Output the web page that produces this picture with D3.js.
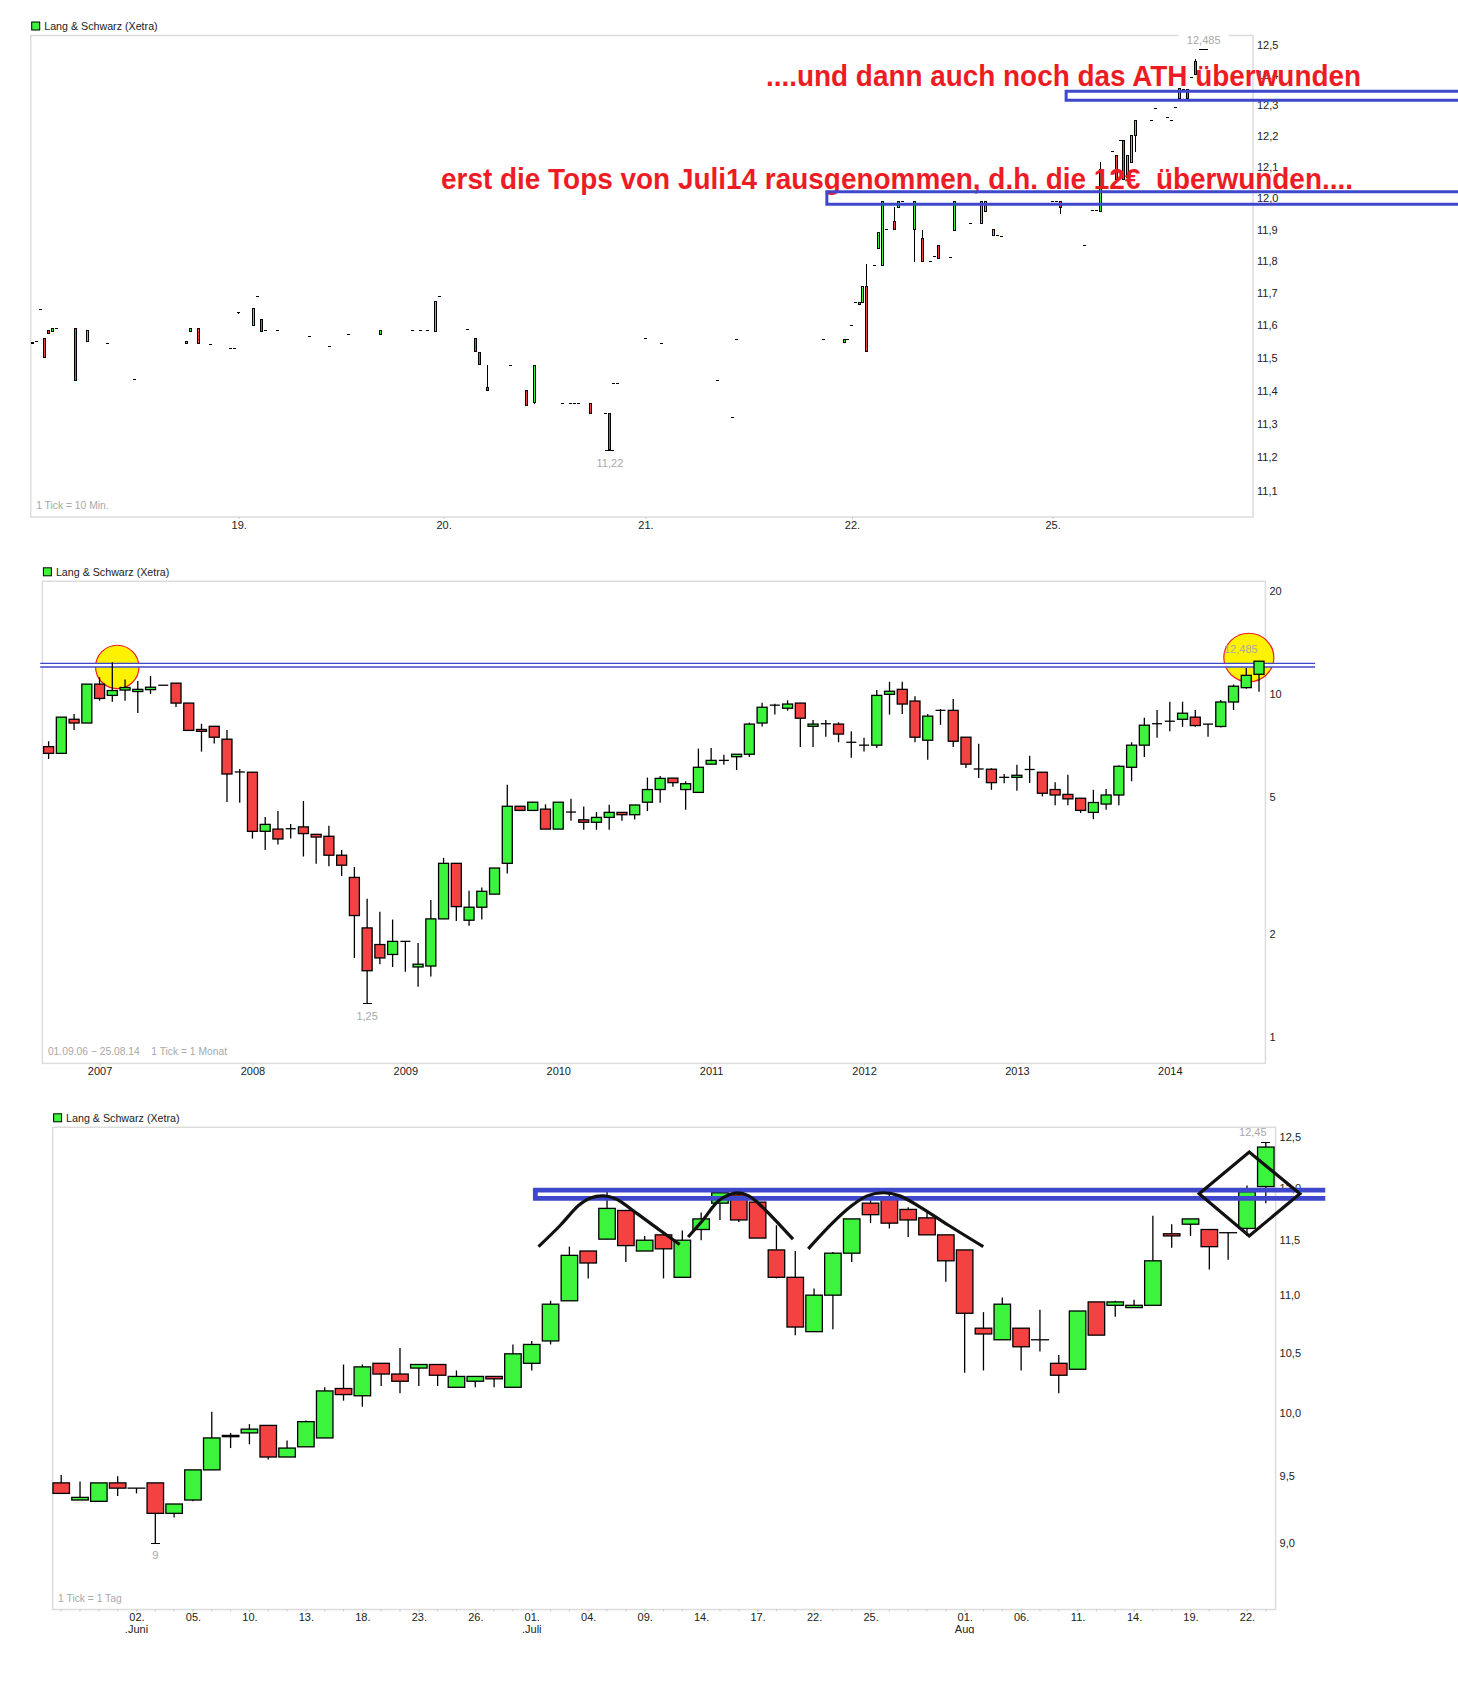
<!DOCTYPE html>
<html>
<head>
  <meta charset="utf-8">
  <title>Lang & Schwarz (Xetra)</title>
  <script src="https://d3js.org/d3.v7.min.js"></script>
  <style>
    body { margin: 0; background: #fff; }
    svg { display: block; font-family: "Liberation Sans", Arial, sans-serif; }
  </style>
</head>
<body>
  <div id="chart"></div>

  <script>
    // 10 minute chart
    var minuteTick = [0.3,1.3,2.3,3.3,4.3,5.3,6.3,11,14,19,26,39,40,42,45,50,51,52,55.7,56.7,57.7,58.7,61.8,69.8,74.8,79.6,87.6,95.6,97.6,99.4,101.4,102.4,109.4,111.4,112.4,114.4,120.2,124.2,126.2,133.3,135.3,136.3,137.3,140.3,144.1,145.1,146.1,147.1,154.1,158.1,172,175.9,176.8,198.7,203.8,204.8,205.8,206.8,207.8,208.5,209.5,211.5,212.5,213.5,214.5,216.5,217.5,218.5,221.5,223.6,225.6,226.6,227.6,230.4,231.4,235.4,238.4,239.4,241.4,242.4,243.4,255.2,256.2,257.2,258.2,264.2,266.2,267.2,268.2,271.2,272.2,273.2,274,275,276,277,281,282,285,286,287,288,289,290,291,292,294];
    var minuteOpen = [11.548,11.55,11.648,11.559,11.585,11.58,11.59,11.59,11.55,11.545,11.435,11.543,11.58,11.59,11.54,11.53,11.53,11.64,11.599,11.69,11.617,11.583,11.583,11.566,11.535,11.572,11.572,11.583,11.583,11.583,11.582,11.69,11.586,11.559,11.517,11.41,11.476,11.40,11.364,11.362,11.361,11.361,11.36,11.36,11.33,11.33,11.422,11.422,11.56,11.545,11.43,11.318,11.557,11.556,11.547,11.558,11.60,11.672,11.664,11.671,11.72,11.785,11.839,11.785,11.90,11.926,11.97,11.99,11.90,11.873,11.80,11.815,11.85,11.812,11.897,11.92,11.92,11.957,11.881,11.88,11.878,11.978,11.99,11.99,11.99,11.85,11.96,11.96,11.957,12.15,12.138,12.186,12.186,12.067,12.114,12.203,12.252,12.29,12.26,12.252,12.292,12.323,12.353,12.353,12.392,12.443,12.485];
    var minuteClose = [11.543,11.55,11.648,11.50,11.575,11.59,11.59,11.43,11.585,11.545,11.435,11.55,11.59,11.543,11.54,11.53,11.53,11.64,11.651,11.69,11.581,11.583,11.583,11.566,11.535,11.572,11.583,11.583,11.583,11.583,11.675,11.69,11.586,11.519,11.48,11.40,11.476,11.355,11.476,11.362,11.361,11.361,11.36,11.33,11.33,11.222,11.422,11.422,11.56,11.545,11.43,11.318,11.557,11.556,11.557,11.558,11.60,11.672,11.672,11.72,11.519,11.785,11.891,11.99,11.90,11.90,11.99,11.99,11.99,11.798,11.80,11.815,11.81,11.812,11.99,11.92,11.99,11.99,11.90,11.88,11.878,11.978,11.99,11.99,11.97,11.85,11.96,11.96,12.093,12.15,12.06,12.186,12.06,12.138,12.203,12.252,12.252,12.29,12.26,12.252,12.292,12.354,12.353,12.323,12.392,12.40,12.485];
    var minuteHigh = [11.548,11.55,11.648,11.559,11.585,11.59,11.59,11.59,11.585,11.545,11.435,11.55,11.59,11.59,11.54,11.53,11.53,11.64,11.651,11.69,11.617,11.583,11.583,11.566,11.535,11.572,11.583,11.583,11.583,11.583,11.675,11.69,11.586,11.559,11.517,11.479,11.476,11.40,11.476,11.362,11.361,11.361,11.36,11.36,11.33,11.33,11.422,11.422,11.56,11.545,11.43,11.318,11.557,11.556,11.557,11.558,11.60,11.672,11.672,11.72,11.791,11.785,11.891,11.99,11.90,11.97,11.99,11.99,11.99,11.90,11.80,11.815,11.85,11.812,11.99,11.92,11.99,11.99,11.90,11.88,11.878,11.978,11.99,11.99,11.99,11.85,11.96,11.96,12.116,12.15,12.138,12.186,12.186,12.138,12.203,12.252,12.252,12.29,12.26,12.252,12.292,12.354,12.353,12.353,12.392,12.452,12.485];
    var minuteLow = [11.543,11.55,11.648,11.50,11.575,11.58,11.59,11.43,11.55,11.545,11.435,11.543,11.58,11.543,11.54,11.53,11.53,11.636,11.599,11.69,11.581,11.583,11.583,11.566,11.535,11.572,11.572,11.583,11.583,11.583,11.582,11.69,11.586,11.519,11.48,11.40,11.476,11.355,11.361,11.362,11.361,11.361,11.36,11.33,11.33,11.22,11.422,11.422,11.56,11.545,11.43,11.318,11.557,11.556,11.547,11.558,11.60,11.672,11.664,11.671,11.519,11.785,11.839,11.785,11.90,11.90,11.97,11.99,11.796,11.798,11.80,11.815,11.81,11.812,11.897,11.92,11.92,11.957,11.881,11.88,11.878,11.978,11.99,11.99,11.95,11.85,11.96,11.96,11.957,12.15,12.06,12.186,12.06,12.067,12.114,12.149,12.252,12.29,12.26,12.252,12.292,12.323,12.353,12.323,12.392,12.40,12.485];
    var minuteAxisTicks = [52,103.4,154,205.8,256.1];
    var minuteAxisLabels = ['19.','20.','21.','22.','25.'];
    var minuteYTicks = [12.5,12.4,12.3,12.2,12.1,12.0,11.9,11.8,11.7,11.6,11.5,11.4,11.3,11.2,11.1];
    var minuteBands = [[12.02,11.98,199.5],[12.346,12.317,259.5]];

    // monthly chart, Sep 2006 to Aug 2014
    var monthOpen = [7.03,6.72,8.45,8.24,10.70,9.92,10.28,10.18,10.31,10.62,10.77,9.42,7.89,8.06,7.39,5.93,5.92,3.98,4.04,4.05,4.10,3.90,3.85,3.39,2.92,2.08,1.86,1.74,1.90,1.60,1.61,2.21,3.21,2.19,2.39,2.61,3.21,4.71,4.58,4.62,4.04,4.53,4.30,4.23,4.37,4.52,4.45,4.84,5.27,5.69,5.27,5.17,6.25,6.41,6.57,6.68,8.24,9.29,9.10,9.42,8.06,8.20,8.18,7.24,7.10,7.10,9.99,10.33,9.55,7.34,8.97,8.97,7.49,6.05,6.04,5.72,5.72,6.03,5.92,5.27,5.10,4.97,4.52,4.78,5.08,6.12,7.10,8.20,8.34,8.45,8.57,8.18,8.05,9.49,10.45,11.43];
    var monthClose = [6.72,8.57,8.24,10.70,9.72,10.25,10.46,10.33,10.48,10.62,9.42,7.84,7.79,7.49,5.85,5.93,3.98,4.17,3.78,4.05,3.92,3.83,3.39,3.17,2.26,1.56,1.70,1.90,1.90,1.63,2.21,3.21,2.40,2.39,2.66,3.11,4.71,4.58,4.84,4.04,4.84,4.53,4.23,4.37,4.52,4.45,4.75,5.27,5.68,5.52,5.48,6.12,6.41,6.41,6.68,8.18,9.16,9.29,9.36,8.51,8.18,8.20,7.65,7.24,7.10,9.92,10.20,9.36,7.49,8.63,8.97,7.29,6.25,6.05,5.52,5.72,5.80,6.03,5.14,5.08,4.95,4.58,4.83,5.08,6.16,7.10,8.12,8.20,8.34,8.80,8.10,8.18,9.49,10.55,11.35,12.48];
    var monthHigh = [7.29,8.57,8.76,10.70,11.21,12.39,11.04,10.92,11.30,10.62,10.77,9.42,8.20,8.06,7.86,6.05,5.92,4.38,4.56,4.18,4.88,3.90,4.13,3.51,3.13,2.53,2.32,2.20,1.90,1.88,2.51,3.33,3.21,2.67,2.73,3.11,5.44,4.71,4.84,4.77,4.84,4.95,4.70,4.53,4.76,4.52,4.75,5.71,5.77,5.69,5.57,6.94,6.97,6.66,6.68,8.26,9.44,9.38,9.60,9.42,8.41,8.41,8.28,7.80,7.46,10.28,10.87,10.87,9.87,8.76,9.05,9.68,7.49,7.17,6.08,5.85,6.22,6.61,5.92,5.53,5.82,4.97,5.26,5.29,6.20,7.24,8.53,8.99,9.51,9.51,8.99,8.18,9.62,10.67,11.93,12.485];
    var monthLow = [6.47,6.72,7.86,8.24,9.57,9.51,9.57,8.82,10.01,10.62,9.18,7.84,6.80,7.18,4.85,4.82,3.79,3.51,3.64,3.79,3.36,3.20,3.15,2.95,1.70,1.25,1.63,1.60,1.55,1.40,1.50,2.21,2.18,2.11,2.20,2.61,3.00,4.58,4.58,4.04,4.04,4.27,4.02,4.02,4.02,4.27,4.31,4.56,4.82,5.37,4.60,5.17,6.25,6.23,6.01,6.56,8.05,8.72,8.95,7.01,7.01,7.51,7.24,6.52,6.80,6.97,8.72,8.76,7.24,6.44,8.14,7.01,6.09,5.69,5.26,5.50,5.23,5.51,5.03,4.74,4.74,4.50,4.32,4.60,4.74,5.57,6.56,7.46,7.80,8.03,8.03,7.51,7.99,8.99,10.38,10.16];
    var monthAxisTicks = [4,16,28,40,52,64,76,88];
    var monthAxisLabels = ['2007','2008','2009','2010','2011','2012','2013','2014'];
    var monthYTicks = [20,10,5,2,1];
    var monthLevels = [12.3,12.0];
    var monthCircles = [[5.39,12.01],[94.2,12.79]];

    // daily chart
    var dayOpen = [9.45,9.32,9.31,9.45,9.41,9.45,9.22,9.32,9.55,9.82,9.84,9.90,9.65,9.73,9.80,10.20,10.14,10.41,10.32,10.37,10.40,10.21,10.26,10.30,10.21,10.41,10.60,10.95,11.40,11.51,11.78,11.40,11.55,11.16,11.60,11.85,11.93,11.86,11.41,11.16,10.68,11.00,11.38,11.85,11.89,11.79,11.71,11.55,11.41,10.71,10.61,10.71,10.61,10.41,10.36,10.94,10.91,10.89,10.91,11.56,11.65,11.60,11.57,11.61,12.01];
    var dayClose = [9.37,9.34,9.45,9.41,9.41,9.22,9.29,9.55,9.80,9.81,9.87,9.65,9.72,9.93,10.18,10.15,10.38,10.32,10.26,10.40,10.31,10.30,10.30,10.28,10.49,10.57,10.92,11.36,11.29,11.80,11.45,11.50,11.42,11.50,11.70,11.95,11.69,11.52,11.16,10.72,11.00,11.38,11.70,11.74,11.66,11.69,11.55,11.31,10.84,10.66,10.92,10.55,10.61,10.31,10.86,10.65,10.94,10.91,11.31,11.54,11.70,11.44,11.57,11.96,12.40];
    var dayHigh = [9.51,9.46,9.45,9.50,9.41,9.45,9.29,9.55,10.01,9.84,9.91,9.90,9.78,9.94,10.21,10.40,10.40,10.41,10.54,10.40,10.40,10.35,10.30,10.30,10.57,10.60,10.95,11.44,11.40,11.96,11.78,11.54,11.57,11.59,11.76,11.97,11.95,11.89,11.64,11.40,11.06,11.39,11.70,11.89,11.94,11.81,11.77,11.55,11.41,10.85,10.98,10.71,10.87,10.48,10.86,10.94,10.95,10.96,11.73,11.65,11.70,11.60,11.57,12.02,12.45];
    var dayLow = [9.37,9.32,9.31,9.35,9.37,9.00,9.19,9.31,9.55,9.72,9.75,9.63,9.65,9.73,9.80,10.10,10.05,10.22,10.16,10.22,10.22,10.21,10.21,10.21,10.21,10.35,10.57,10.95,11.15,11.51,11.30,11.40,11.15,11.16,11.50,11.69,11.67,11.52,11.15,10.65,10.68,10.70,11.30,11.66,11.61,11.53,11.55,11.12,10.33,10.35,10.61,10.35,10.51,10.16,10.36,10.65,10.81,10.89,10.91,11.43,11.54,11.23,11.32,11.54,11.85];
    var dayAxisTicks = [4,7,10,13,16,19,22,25,28,31,34,37,40,43,48,51,54,57,60,63];
    var dayAxisLabels = ['02.','05.','10.','13.','18.','23.','26.','01.','04.','09.','14.','17.','22.','25.','01.','06.','11.','14.','19.','22.'];
    var dayMonthTicks = [4,25,48];
    var dayMonthLabels = ['.Juni','.Juli','Aug'];
    var dayYTicks = [12.5,12.0,11.5,11.0,10.5,10.0,9.5,9.0];
    var dayBand = [11.976,11.896,25.19,67.16];
    var dayArcs = [
      [[25.36,11.44],[26.52,11.64],[27.5,11.83],[28.12,11.90],[28.81,11.92],[29.48,11.89],[30.6,11.75],[31.83,11.59],[32.86,11.46]],
      [[33.31,11.53],[34.05,11.68],[34.91,11.87],[35.48,11.93],[35.92,11.95],[36.53,11.92],[37.27,11.81],[38.88,11.51]],
      [[39.69,11.42],[40.97,11.66],[41.96,11.82],[42.82,11.92],[43.69,11.95],[44.55,11.92],[45.66,11.81],[47.14,11.64],[48.99,11.44]]
    ];
    var dayDiamond = [[60.46,11.94],[63.12,12.35],[65.81,11.94],[63.12,11.54]];

    var GREEN = '#3cf43c', RED = '#f44141', BLUE = '#3f48cc', ANNOT = '#ed1c24', GREY = '#a8a8a8';

    var svg = d3.select('#chart').append('svg')
      .attr('width', 1458)
      .attr('height', 1694);

    function commaFormat(d) { return d3.format('.1f')(d).replace('.', ','); }

    function drawFrame(p) {
      var g = svg.append('g');
      g.append('rect')
        .attr('x', p.left).attr('y', p.top)
        .attr('width', p.right - p.left).attr('height', p.bottom - p.top)
        .attr('fill', 'none').attr('stroke', '#dcdcdc').attr('stroke-width', 1.5);

      // legend
      g.append('rect')
        .attr('x', p.left + 1).attr('y', p.top - 13.5)
        .attr('width', 8).attr('height', 8)
        .attr('fill', GREEN).attr('stroke', '#000');
      g.append('text')
        .attr('x', p.left + 13.5).attr('y', p.top - 5.5)
        .attr('font-size', 10.7).attr('fill', '#222')
        .text('Lang & Schwarz (Xetra)');

      // footnote
      g.append('text')
        .attr('x', p.left + 5.5).attr('y', p.bottom - 8)
        .attr('font-size', 10.3).attr('fill', GREY)
        .text(p.note);

      // axes
      var yAxis = d3.axisRight(p.y).tickValues(p.yTicks).tickFormat(p.yFormat).tickSize(0).tickPadding(4);
      var ya = g.append('g').attr('transform', 'translate(' + p.right + ',0)').call(yAxis);
      ya.select('.domain').remove();
      ya.selectAll('text').attr('font-size', 11).attr('font-family', 'inherit').attr('fill', '#222');

      var xAxis = d3.axisBottom(p.x).tickValues(p.xTicks)
        .tickFormat(function(d) { return p.xLabels[p.xTicks.indexOf(d)]; })
        .tickSize(2).tickPadding(2);
      var xa = g.append('g').attr('transform', 'translate(0,' + p.bottom + ')').call(xAxis);
      xa.select('.domain').remove();
      xa.selectAll('line').attr('stroke', '#ccc');
      xa.selectAll('text').attr('font-size', 11).attr('font-family', 'inherit').attr('fill', '#222');
    }

    function drawCandles(p, xs, open, high, low, close, w, strokeWidth, rendering) {
      var rows = xs.map(function(t, i) {
        return { t: t, o: open[i], h: high[i], l: low[i], c: close[i] };
      });
      var g = svg.append('g').attr('shape-rendering', rendering).attr('stroke-width', strokeWidth);
      var marks = g.selectAll('g').data(rows).enter().append('g');

      marks.append('line')
        .attr('x1', function(d) { return p.x(d.t); })
        .attr('x2', function(d) { return p.x(d.t); })
        .attr('y1', function(d) { return p.y(d.h); })
        .attr('y2', function(d) { return p.y(d.l); })
        .attr('stroke', '#000');

      // open equal to close has no body, only a dash
      marks.filter(function(d) { return d.o === d.c; }).append('line')
        .attr('x1', function(d) { return p.x(d.t) - p.dash / 2; })
        .attr('x2', function(d) { return p.x(d.t) + p.dash / 2; })
        .attr('y1', function(d) { return p.y(d.o); })
        .attr('y2', function(d) { return p.y(d.o); })
        .attr('stroke', '#000');

      marks.filter(function(d) { return d.o !== d.c; }).append('rect')
        .attr('x', function(d) { return p.x(d.t) - (w - 1) / 2; })
        .attr('width', w - 1)
        .attr('y', function(d) { return p.y(Math.max(d.o, d.c)); })
        .attr('height', function(d) { return Math.max(1, Math.abs(p.y(d.o) - p.y(d.c))); })
        .attr('fill', function(d) { return d.c > d.o ? GREEN : RED; })
        .attr('stroke', '#000');
    }

    // small bar at an extreme value with its grey label
    function drawExtreme(p, t, value, label, labelDx, labelDy, halo) {
      svg.append('line')
        .attr('x1', p.x(t) - 4.5).attr('x2', p.x(t) + 4.5)
        .attr('y1', p.y(value)).attr('y2', p.y(value))
        .attr('stroke', '#000').attr('shape-rendering', 'crispEdges');
      var cx = p.x(t) + labelDx, cy = p.y(value) + labelDy;
      if (halo) {
        svg.append('rect').attr('x', cx - 25).attr('y', cy - 7).attr('width', 50).attr('height', 14).attr('fill', '#fff');
      }
      svg.append('text')
        .attr('x', cx).attr('y', cy).attr('dy', '0.35em')
        .attr('text-anchor', 'middle')
        .attr('font-size', 11).attr('fill', GREY)
        .text(label);
    }

    // ---------- first panel, 10 minutes ----------
    var p1 = {
      left: 30.7, right: 1253, top: 35.5, bottom: 517,
      note: '1 Tick = 10 Min.',
      yTicks: minuteYTicks, yFormat: commaFormat,
      xTicks: minuteAxisTicks, xLabels: minuteAxisLabels,
      dash: 3
    };
    p1.x = d3.scaleLinear().domain([0, 294]).range([31.3, 1203.7]);
    p1.y = d3.scaleLog().domain([11.023, 12.531]).range([517, 35.5]);
    drawFrame(p1);
    drawCandles(p1, minuteTick, minuteOpen, minuteHigh, minuteLow, minuteClose, 3, 1, 'crispEdges');
    drawExtreme(p1, 145.1, 11.22, '11,22', 0, 13, false);
    drawExtreme(p1, 294, 12.485, '12,485', 0, -9, true);

    var lineBand = d3.line().x(function(d) { return p1.x(d[0]); }).y(function(d) { return p1.y(d[1]); });

    svg.append('text')
      .attr('x', 766).attr('y', 86)
      .attr('font-size', 29).attr('font-weight', 'bold').attr('fill', ANNOT)
      .attr('textLength', 595).attr('lengthAdjust', 'spacingAndGlyphs')
      .text('....und dann auch noch das ATH überwunden');
    svg.append('text')
      .attr('x', 441).attr('y', 189)
      .attr('font-size', 29).attr('font-weight', 'bold').attr('fill', ANNOT)
      .attr('textLength', 912).attr('lengthAdjust', 'spacingAndGlyphs')
      .text('erst die Tops von Juli14 rausgenommen, d.h. die 12€\u00a0 überwunden....');

    var minuteRight = p1.x.invert(1458);
    minuteBands.forEach(function(b) {
      svg.append('path')
        .attr('d', lineBand([[minuteRight, b[0]], [b[2], b[0]], [b[2], b[1]], [minuteRight, b[1]]]))
        .attr('fill', 'none').attr('stroke', BLUE).attr('stroke-width', 3);
    });

    // ---------- second panel, months ----------
    var p2 = {
      left: 42.4, right: 1265.4, top: 581.3, bottom: 1063.4,
      note: '01.09.06 \u2212 25.08.14\u00a0\u00a0\u00a0 1 Tick = 1 Monat',
      yTicks: monthYTicks, yFormat: d3.format('d'),
      xTicks: monthAxisTicks, xLabels: monthAxisLabels,
      dash: 10
    };
    p2.x = d3.scaleLinear().domain([0, 95]).range([48.6, 1259]);
    p2.y = d3.scaleLog().domain([0.837, 21.35]).range([1063.4, 581.3]);
    drawFrame(p2);

    svg.selectAll('.sun').data(monthCircles).enter().append('ellipse')
      .attr('class', 'sun')
      .attr('cx', function(d) { return p2.x(d[0]); })
      .attr('cy', function(d) { return p2.y(d[1]); })
      .attr('rx', function(d, i) { return i ? 25 : 21.7; })
      .attr('ry', function(d, i) { return i ? 24.3 : 21.7; })
      .attr('fill', '#fff200').attr('stroke', ANNOT).attr('stroke-width', 1.2);

    svg.append('rect')
      .attr('x', p2.x(-0.66)).attr('width', p2.x(99.4) - p2.x(-0.66))
      .attr('y', p2.y(monthLevels[0])).attr('height', p2.y(monthLevels[1]) - p2.y(monthLevels[0]))
      .attr('fill', '#fff')
      .attr('stroke', 'none');
    monthLevels.forEach(function(v) {
      svg.append('line')
        .attr('x1', p2.x(-0.66)).attr('x2', p2.x(99.4))
        .attr('y1', p2.y(v)).attr('y2', p2.y(v))
        .attr('stroke', BLUE).attr('stroke-width', 1.4);
    });

    var monthIndex = monthOpen.map(function(d, i) { return i; });
    drawCandles(p2, monthIndex, monthOpen, monthHigh, monthLow, monthClose, 11, 1.3, 'auto');
    drawExtreme(p2, 25, 1.25, '1,25', 0, 12, false);
    svg.append('text')
      .attr('x', p2.x(94.2) - 8).attr('y', p2.y(13.5)).attr('dy', '0.35em')
      .attr('text-anchor', 'middle').attr('font-size', 11).attr('fill', GREY)
      .text('12,485');

    // ---------- third panel, days ----------
    var p3 = {
      left: 52.6, right: 1275.6, top: 1127.3, bottom: 1609.5,
      note: '1 Tick = 1 Tag',
      yTicks: dayYTicks, yFormat: commaFormat,
      xTicks: dayAxisTicks, xLabels: dayAxisLabels,
      dash: 18
    };
    p3.x = d3.scaleLinear().domain([0, 64]).range([61.2, 1265.8]);
    p3.y = d3.scaleLog().domain([8.53, 12.6]).range([1609.5, 1127.3]);
    drawFrame(p3);

    // second row of month names, cut off at the bottom in the original
    svg.append('clipPath').attr('id', 'monthClip').append('rect')
      .attr('x', 0).attr('y', 1620).attr('width', 1458).attr('height', 13.5);
    svg.append('g').attr('clip-path', 'url(#monthClip)')
      .selectAll('text').data(dayMonthTicks).enter().append('text')
      .attr('x', function(d) { return p3.x(d); })
      .attr('y', 1633)
      .attr('text-anchor', 'middle')
      .attr('font-size', 11).attr('fill', '#222')
      .text(function(d, i) { return dayMonthLabels[i]; });

    // faint tick for every session
    var dayIndex = dayOpen.map(function(d, i) { return i; });
    svg.append('g').selectAll('line').data(dayIndex).enter().append('line')
      .attr('x1', function(d) { return p3.x(d); })
      .attr('x2', function(d) { return p3.x(d); })
      .attr('y1', p3.bottom).attr('y2', p3.bottom + 2)
      .attr('stroke', '#ccc');

    drawCandles(p3, dayIndex, dayOpen, dayHigh, dayLow, dayClose, 17.5, 1.3, 'auto');
    drawExtreme(p3, 5, 9.0, '9', 0, 12, false);
    drawExtreme(p3, 64, 12.45, '12,45', -13, -10, false);

    var lineDay = d3.line().x(function(d) { return p3.x(d[0]); }).y(function(d) { return p3.y(d[1]); });

    svg.append('path')
      .attr('d', lineDay([[dayBand[3], dayBand[0]], [dayBand[2], dayBand[0]], [dayBand[2], dayBand[1]], [dayBand[3], dayBand[1]]]))
      .attr('fill', 'none').attr('stroke', BLUE).attr('stroke-width', 4.8);

    var arcLine = d3.line()
      .x(function(d) { return p3.x(d[0]); })
      .y(function(d) { return p3.y(d[1]); })
      .curve(d3.curveCatmullRom);
    svg.selectAll('.arc').data(dayArcs).enter().append('path')
      .attr('class', 'arc')
      .attr('d', arcLine)
      .attr('fill', 'none').attr('stroke', '#111').attr('stroke-width', 3.2);

    svg.append('path')
      .attr('d', lineDay(dayDiamond) + 'Z')
      .attr('fill', 'none').attr('stroke', '#111').attr('stroke-width', 3.2);
  </script>
</body>
</html>
